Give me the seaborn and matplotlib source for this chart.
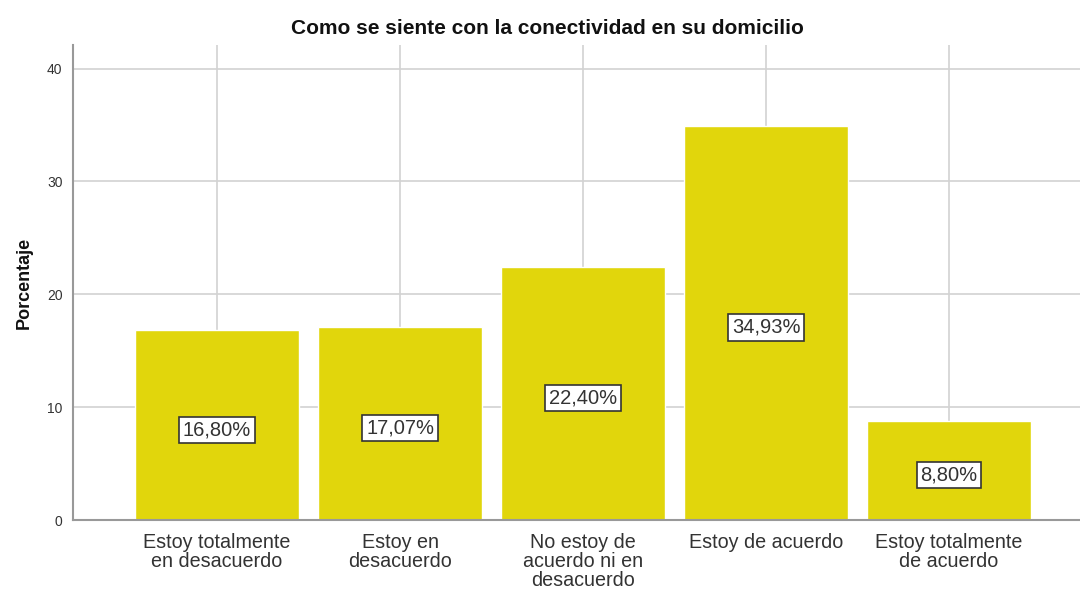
import matplotlib
matplotlib.use("Agg")
import matplotlib.pyplot as plt
import seaborn as sns
import pandas as pd

categories = ["Estoy totalmente\nen desacuerdo", "Estoy en\ndesacuerdo",
              "No estoy de\nacuerdo ni en\ndesacuerdo", "Estoy de acuerdo",
              "Estoy totalmente\nde acuerdo"]
percentages = [16.80, 17.07, 22.40, 34.93, 8.80]
labels = ["16,80%", "17,07%", "22,40%", "34,93%", "8,80%"]

df = pd.DataFrame({"categoria": categories, "porcentaje": percentages})

sns.set_style("white")
plt.rcParams["font.family"] = ["Liberation Sans", "DejaVu Sans"]

fig = plt.figure(figsize=(10.8, 5.91), dpi=100)
ax = fig.add_axes([0.0676, 0.12, 0.9324, 0.804])

sns.barplot(data=df, x="categoria", y="porcentaje", color="#e1d60c",
            saturation=1, width=0.9, ax=ax, zorder=2)
ax.grid(True, axis="both", color="#d2d2d2", linewidth=1.2, zorder=0)
ax.set_axisbelow(True)

# etiquetas de porcentaje en el centro de cada barra
for i, (v, t) in enumerate(zip(percentages, labels)):
    ax.text(i, v / 2 - 0.4, t, ha="center", va="center", fontsize=14.5, color="#333333",
            bbox=dict(boxstyle="square,pad=0.18", facecolor="white",
                      edgecolor="#333333", linewidth=1.2), zorder=3)

ax.set_xlim(-0.787, 4.716)
ax.set_ylim(0, 42.1)
ax.set_yticks([0, 10, 20, 30, 40])
ax.tick_params(axis="y", labelsize=10, colors="#333333", length=4, width=1)
ax.tick_params(axis="x", labelsize=14.2, colors="#333333", length=0, pad=9)
for lab in ax.get_xticklabels():
    lab.set_linespacing(1.0)

for s in ["top", "right"]:
    ax.spines[s].set_visible(False)
for s in ["left", "bottom"]:
    ax.spines[s].set_color("#999999")
    ax.spines[s].set_linewidth(1.5)

ax.set_xlabel("")
ax.set_ylabel("Porcentaje", fontsize=13, fontweight="bold", color="#111111", labelpad=10)
fig.text(0.507, 0.952, "Como se siente con la conectividad en su domicilio",
         ha="center", va="center", fontsize=15, fontweight="bold", color="#111111")

fig.savefig("out.png", dpi=100)
